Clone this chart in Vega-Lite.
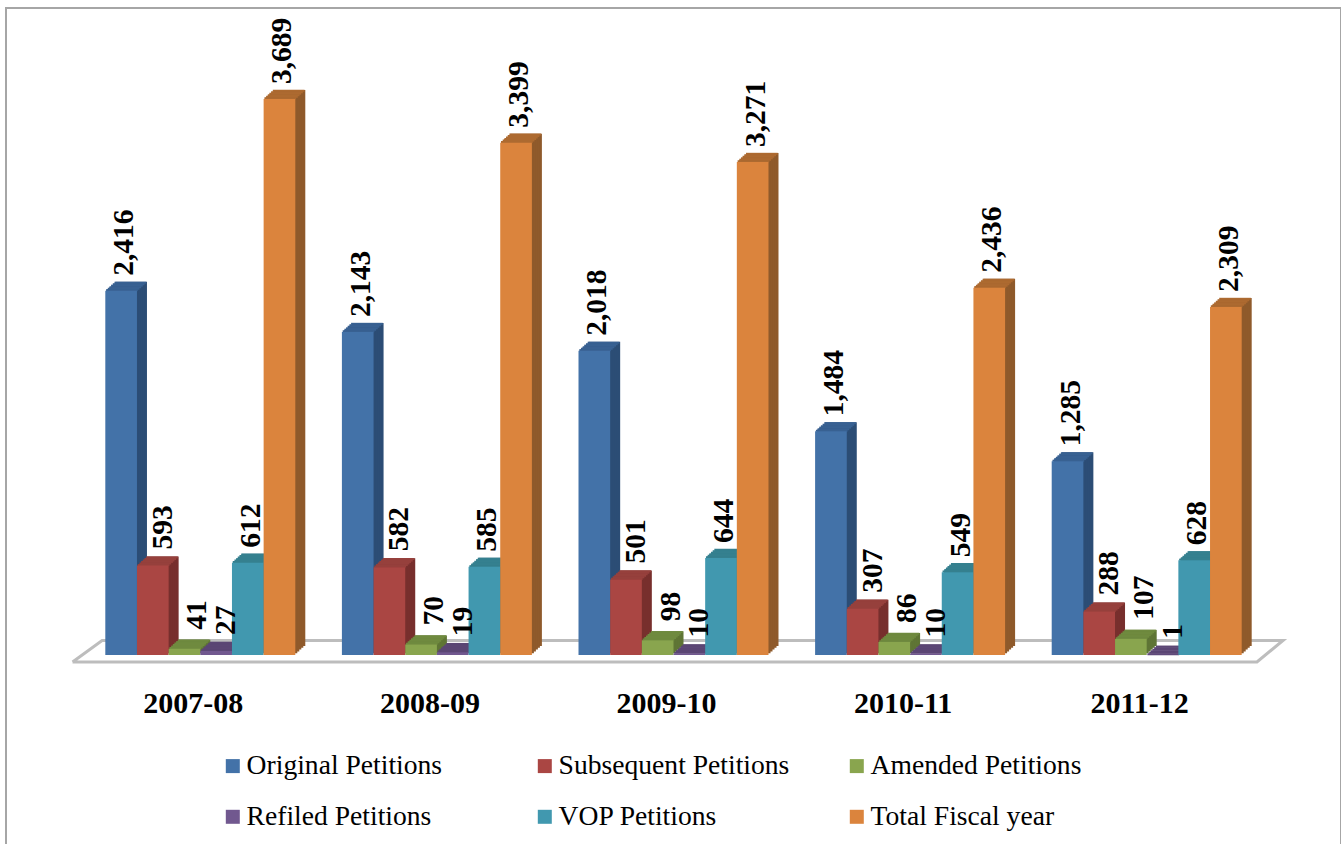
{"$schema":"https://vega.github.io/schema/vega-lite/v6.json","width":1335,"height":845,"autosize":"none","padding":{"left":6,"top":8,"right":0,"bottom":0},"background":"white","view":{"stroke":"#a6a6a6","strokeWidth":2,"fill":"white"},"config":{"font":"Liberation Serif"},"datasets":{"bars":[
{"year":"2007-08","series":"Original Petitions","side":"Original side","top":"Original top","value":2416},
{"year":"2007-08","series":"Subsequent Petitions","side":"Subsequent side","top":"Subsequent top","value":593},
{"year":"2007-08","series":"Amended Petitions","side":"Amended side","top":"Amended top","value":41},
{"year":"2007-08","series":"Refiled Petitions","side":"Refiled side","top":"Refiled top","value":27},
{"year":"2007-08","series":"VOP Petitions","side":"VOP side","top":"VOP top","value":612},
{"year":"2007-08","series":"Total Fiscal year","side":"Total side","top":"Total top","value":3689},
{"year":"2008-09","series":"Original Petitions","side":"Original side","top":"Original top","value":2143},
{"year":"2008-09","series":"Subsequent Petitions","side":"Subsequent side","top":"Subsequent top","value":582},
{"year":"2008-09","series":"Amended Petitions","side":"Amended side","top":"Amended top","value":70},
{"year":"2008-09","series":"Refiled Petitions","side":"Refiled side","top":"Refiled top","value":19},
{"year":"2008-09","series":"VOP Petitions","side":"VOP side","top":"VOP top","value":585},
{"year":"2008-09","series":"Total Fiscal year","side":"Total side","top":"Total top","value":3399},
{"year":"2009-10","series":"Original Petitions","side":"Original side","top":"Original top","value":2018},
{"year":"2009-10","series":"Subsequent Petitions","side":"Subsequent side","top":"Subsequent top","value":501},
{"year":"2009-10","series":"Amended Petitions","side":"Amended side","top":"Amended top","value":98},
{"year":"2009-10","series":"Refiled Petitions","side":"Refiled side","top":"Refiled top","value":10},
{"year":"2009-10","series":"VOP Petitions","side":"VOP side","top":"VOP top","value":644},
{"year":"2009-10","series":"Total Fiscal year","side":"Total side","top":"Total top","value":3271},
{"year":"2010-11","series":"Original Petitions","side":"Original side","top":"Original top","value":1484},
{"year":"2010-11","series":"Subsequent Petitions","side":"Subsequent side","top":"Subsequent top","value":307},
{"year":"2010-11","series":"Amended Petitions","side":"Amended side","top":"Amended top","value":86},
{"year":"2010-11","series":"Refiled Petitions","side":"Refiled side","top":"Refiled top","value":10},
{"year":"2010-11","series":"VOP Petitions","side":"VOP side","top":"VOP top","value":549},
{"year":"2010-11","series":"Total Fiscal year","side":"Total side","top":"Total top","value":2436},
{"year":"2011-12","series":"Original Petitions","side":"Original side","top":"Original top","value":1285},
{"year":"2011-12","series":"Subsequent Petitions","side":"Subsequent side","top":"Subsequent top","value":288},
{"year":"2011-12","series":"Amended Petitions","side":"Amended side","top":"Amended top","value":107},
{"year":"2011-12","series":"Refiled Petitions","side":"Refiled side","top":"Refiled top","value":1},
{"year":"2011-12","series":"VOP Petitions","side":"VOP side","top":"VOP top","value":628},
{"year":"2011-12","series":"Total Fiscal year","side":"Total side","top":"Total top","value":2309}],
"floor":[{"pos":-0.04,"level":-46,"n":1},{"pos":0.085,"level":96,"n":2},{"pos":5.076,"level":96,"n":3},{"pos":4.966,"level":-46,"n":4},{"pos":-0.04,"level":-46,"n":5}]},
"resolve":{"scale":{"x":"independent","y":"independent"}},
"layer":[
{"data":{"name":"floor"},"mark":{"type":"line","stroke":"#bdbdbd","strokeWidth":3,"clip":false},"encoding":{"x":{"field":"pos","type":"quantitative","axis":null,"scale":{"domain":[0,5],"range":[76,1259],"nice":false,"zero":false}},"y":{"field":"level","type":"quantitative","axis":null,"scale":{"domain":[0,3689],"range":[647,91],"nice":false}},"order":{"field":"n","type":"ordinal"}}},
{"data":{"name":"bars"},"mark":{"type":"bar"},"encoding":{"x":{"field":"year","type":"nominal","axis":null,"scale":{"range":[86,1269],"paddingInner":0.197,"paddingOuter":0.0985}},"xOffset":{"field":"series","type":"nominal","sort":null,"scale":{"paddingInner":0,"paddingOuter":0}},"y":{"field":"value","type":"quantitative","axis":null,"scale":{"domain":[0,3689],"range":[638,82],"nice":false}},"color":{"field":"side","type":"nominal"}}},
{"data":{"name":"bars"},"mark":{"type":"bar"},"encoding":{"x":{"field":"year","type":"nominal","axis":null,"scale":{"range":[84,1267],"paddingInner":0.197,"paddingOuter":0.0985}},"xOffset":{"field":"series","type":"nominal","sort":null,"scale":{"paddingInner":0,"paddingOuter":0}},"y":{"field":"value","type":"quantitative","axis":null,"scale":{"domain":[0,3689],"range":[639.8,83.8],"nice":false}},"color":{"field":"side","type":"nominal"}}},
{"data":{"name":"bars"},"mark":{"type":"bar"},"encoding":{"x":{"field":"year","type":"nominal","axis":null,"scale":{"range":[82,1265],"paddingInner":0.197,"paddingOuter":0.0985}},"xOffset":{"field":"series","type":"nominal","sort":null,"scale":{"paddingInner":0,"paddingOuter":0}},"y":{"field":"value","type":"quantitative","axis":null,"scale":{"domain":[0,3689],"range":[641.6,85.6],"nice":false}},"color":{"field":"side","type":"nominal"}}},
{"data":{"name":"bars"},"mark":{"type":"bar"},"encoding":{"x":{"field":"year","type":"nominal","axis":null,"scale":{"range":[80,1263],"paddingInner":0.197,"paddingOuter":0.0985}},"xOffset":{"field":"series","type":"nominal","sort":null,"scale":{"paddingInner":0,"paddingOuter":0}},"y":{"field":"value","type":"quantitative","axis":null,"scale":{"domain":[0,3689],"range":[643.4,87.4],"nice":false}},"color":{"field":"side","type":"nominal"}}},
{"data":{"name":"bars"},"mark":{"type":"bar"},"encoding":{"x":{"field":"year","type":"nominal","axis":null,"scale":{"range":[78,1261],"paddingInner":0.197,"paddingOuter":0.0985}},"xOffset":{"field":"series","type":"nominal","sort":null,"scale":{"paddingInner":0,"paddingOuter":0}},"y":{"field":"value","type":"quantitative","axis":null,"scale":{"domain":[0,3689],"range":[645.2,89.2],"nice":false}},"color":{"field":"side","type":"nominal"}}},
{"data":{"name":"bars"},"mark":{"type":"tick","orient":"horizontal","size":31.7,"thickness":2,"opacity":1},"encoding":{"x":{"field":"year","type":"nominal","axis":null,"scale":{"range":[85.2,1268.2],"paddingInner":0.197,"paddingOuter":0.0985}},"xOffset":{"field":"series","type":"nominal","sort":null,"scale":{"paddingInner":0,"paddingOuter":0}},"y":{"field":"value","type":"quantitative","axis":null,"scale":{"domain":[0,3689],"range":[638.8,82.8],"nice":false}},"color":{"field":"top","type":"nominal"}}},
{"data":{"name":"bars"},"mark":{"type":"tick","orient":"horizontal","size":31.7,"thickness":2,"opacity":1},"encoding":{"x":{"field":"year","type":"nominal","axis":null,"scale":{"range":[83.5,1266.5],"paddingInner":0.197,"paddingOuter":0.0985}},"xOffset":{"field":"series","type":"nominal","sort":null,"scale":{"paddingInner":0,"paddingOuter":0}},"y":{"field":"value","type":"quantitative","axis":null,"scale":{"domain":[0,3689],"range":[640.3,84.3],"nice":false}},"color":{"field":"top","type":"nominal"}}},
{"data":{"name":"bars"},"mark":{"type":"tick","orient":"horizontal","size":31.7,"thickness":2,"opacity":1},"encoding":{"x":{"field":"year","type":"nominal","axis":null,"scale":{"range":[81.8,1264.8],"paddingInner":0.197,"paddingOuter":0.0985}},"xOffset":{"field":"series","type":"nominal","sort":null,"scale":{"paddingInner":0,"paddingOuter":0}},"y":{"field":"value","type":"quantitative","axis":null,"scale":{"domain":[0,3689],"range":[641.8,85.8],"nice":false}},"color":{"field":"top","type":"nominal"}}},
{"data":{"name":"bars"},"mark":{"type":"tick","orient":"horizontal","size":31.7,"thickness":2,"opacity":1},"encoding":{"x":{"field":"year","type":"nominal","axis":null,"scale":{"range":[80.2,1263.2],"paddingInner":0.197,"paddingOuter":0.0985}},"xOffset":{"field":"series","type":"nominal","sort":null,"scale":{"paddingInner":0,"paddingOuter":0}},"y":{"field":"value","type":"quantitative","axis":null,"scale":{"domain":[0,3689],"range":[643.3,87.3],"nice":false}},"color":{"field":"top","type":"nominal"}}},
{"data":{"name":"bars"},"mark":{"type":"tick","orient":"horizontal","size":31.7,"thickness":2,"opacity":1},"encoding":{"x":{"field":"year","type":"nominal","axis":null,"scale":{"range":[78.5,1261.5],"paddingInner":0.197,"paddingOuter":0.0985}},"xOffset":{"field":"series","type":"nominal","sort":null,"scale":{"paddingInner":0,"paddingOuter":0}},"y":{"field":"value","type":"quantitative","axis":null,"scale":{"domain":[0,3689],"range":[644.8,88.8],"nice":false}},"color":{"field":"top","type":"nominal"}}},
{"data":{"name":"bars"},"mark":{"type":"tick","orient":"horizontal","size":31.7,"thickness":2,"opacity":1},"encoding":{"x":{"field":"year","type":"nominal","axis":null,"scale":{"range":[76.8,1259.8],"paddingInner":0.197,"paddingOuter":0.0985}},"xOffset":{"field":"series","type":"nominal","sort":null,"scale":{"paddingInner":0,"paddingOuter":0}},"y":{"field":"value","type":"quantitative","axis":null,"scale":{"domain":[0,3689],"range":[646.3,90.3],"nice":false}},"color":{"field":"top","type":"nominal"}}},
{"data":{"name":"bars"},"mark":{"type":"bar"},"encoding":{"x":{"field":"year","type":"nominal","title":null,"scale":{"range":[76,1259],"paddingInner":0.197,"paddingOuter":0.0985},"axis":{"orient":"bottom","offset":-165,"domain":false,"ticks":false,"labelAngle":0,"labelFont":"Liberation Serif","labelFontSize":30,"labelFontWeight":"bold","labelColor":"black","labelPadding":0,"labelLimit":300,"labelOffset":-7}},"xOffset":{"field":"series","type":"nominal","sort":null,"scale":{"paddingInner":0,"paddingOuter":0}},"y":{"field":"value","type":"quantitative","axis":null,"scale":{"domain":[0,3689],"range":[647,91],"nice":false}},"color":{"field":"series","type":"nominal","title":null,"scale":{"domain":["Original Petitions","Subsequent Petitions","Amended Petitions","Refiled Petitions","VOP Petitions","Total Fiscal year","Original side","Subsequent side","Amended side","Refiled side","VOP side","Total side","Original top","Subsequent top","Amended top","Refiled top","VOP top","Total top"],"range":["#4372A8","#AA4643","#89A54E","#71588F","#4198AF","#DB843D","#2C4D75","#772F2D","#5F7535","#4F3E66","#2E6E80","#8F5A2B","#386192","#96403C","#6F8A3F","#5B4674","#35808F","#AD6A30"]},"legend":{"values":["Original Petitions","Subsequent Petitions","Amended Petitions","Refiled Petitions","VOP Petitions","Total Fiscal year"],"orient":"none","legendX":213,"legendY":744,"direction":"horizontal","columns":3,"gridAlign":"all","columnPadding":53,"rowPadding":22,"symbolType":"square","symbolSize":196,"symbolStrokeWidth":0,"symbolOpacity":1,"labelOffset":0,"labelFont":"Liberation Serif","labelFontSize":27.6,"labelColor":"black","labelLimit":400}}}},
{"data":{"name":"bars"},"transform":[{"filter":"indexof(['Original Petitions','VOP Petitions','Total Fiscal year'],datum.series)>=0"}],"mark":{"type":"text","font":"Liberation Serif","fontWeight":"bold","fontSize":29.5,"angle":270,"align":"left","baseline":"middle","dx":15,"dy":3,"color":"black"},"encoding":{"x":{"field":"year","type":"nominal","axis":null,"scale":{"range":[76,1259],"paddingInner":0.197,"paddingOuter":0.0985}},"xOffset":{"field":"series","type":"nominal","sort":null,"scale":{"domain":["Original Petitions","Subsequent Petitions","Amended Petitions","Refiled Petitions","VOP Petitions","Total Fiscal year"],"paddingInner":0,"paddingOuter":0}},"y":{"field":"value","type":"quantitative","axis":null,"scale":{"domain":[0,3689],"range":[647,91],"nice":false}},"text":{"field":"value","type":"quantitative","format":","}}},
{"data":{"name":"bars"},"transform":[{"filter":"indexof(['Subsequent Petitions','Refiled Petitions'],datum.series)>=0"}],"mark":{"type":"text","font":"Liberation Serif","fontWeight":"bold","fontSize":29.5,"angle":270,"align":"left","baseline":"middle","dx":16,"dy":10,"color":"black"},"encoding":{"x":{"field":"year","type":"nominal","axis":null,"scale":{"range":[76,1259],"paddingInner":0.197,"paddingOuter":0.0985}},"xOffset":{"field":"series","type":"nominal","sort":null,"scale":{"domain":["Original Petitions","Subsequent Petitions","Amended Petitions","Refiled Petitions","VOP Petitions","Total Fiscal year"],"paddingInner":0,"paddingOuter":0}},"y":{"field":"value","type":"quantitative","axis":null,"scale":{"domain":[0,3689],"range":[647,91],"nice":false}},"text":{"field":"value","type":"quantitative","format":","}}},
{"data":{"name":"bars"},"transform":[{"filter":"datum.series==='Amended Petitions'"}],"mark":{"type":"text","font":"Liberation Serif","fontWeight":"bold","fontSize":29.5,"angle":270,"align":"left","baseline":"middle","dx":19,"dy":13,"color":"black"},"encoding":{"x":{"field":"year","type":"nominal","axis":null,"scale":{"range":[76,1259],"paddingInner":0.197,"paddingOuter":0.0985}},"xOffset":{"field":"series","type":"nominal","sort":null,"scale":{"domain":["Original Petitions","Subsequent Petitions","Amended Petitions","Refiled Petitions","VOP Petitions","Total Fiscal year"],"paddingInner":0,"paddingOuter":0}},"y":{"field":"value","type":"quantitative","axis":null,"scale":{"domain":[0,3689],"range":[647,91],"nice":false}},"text":{"field":"value","type":"quantitative","format":","}}}
]}
